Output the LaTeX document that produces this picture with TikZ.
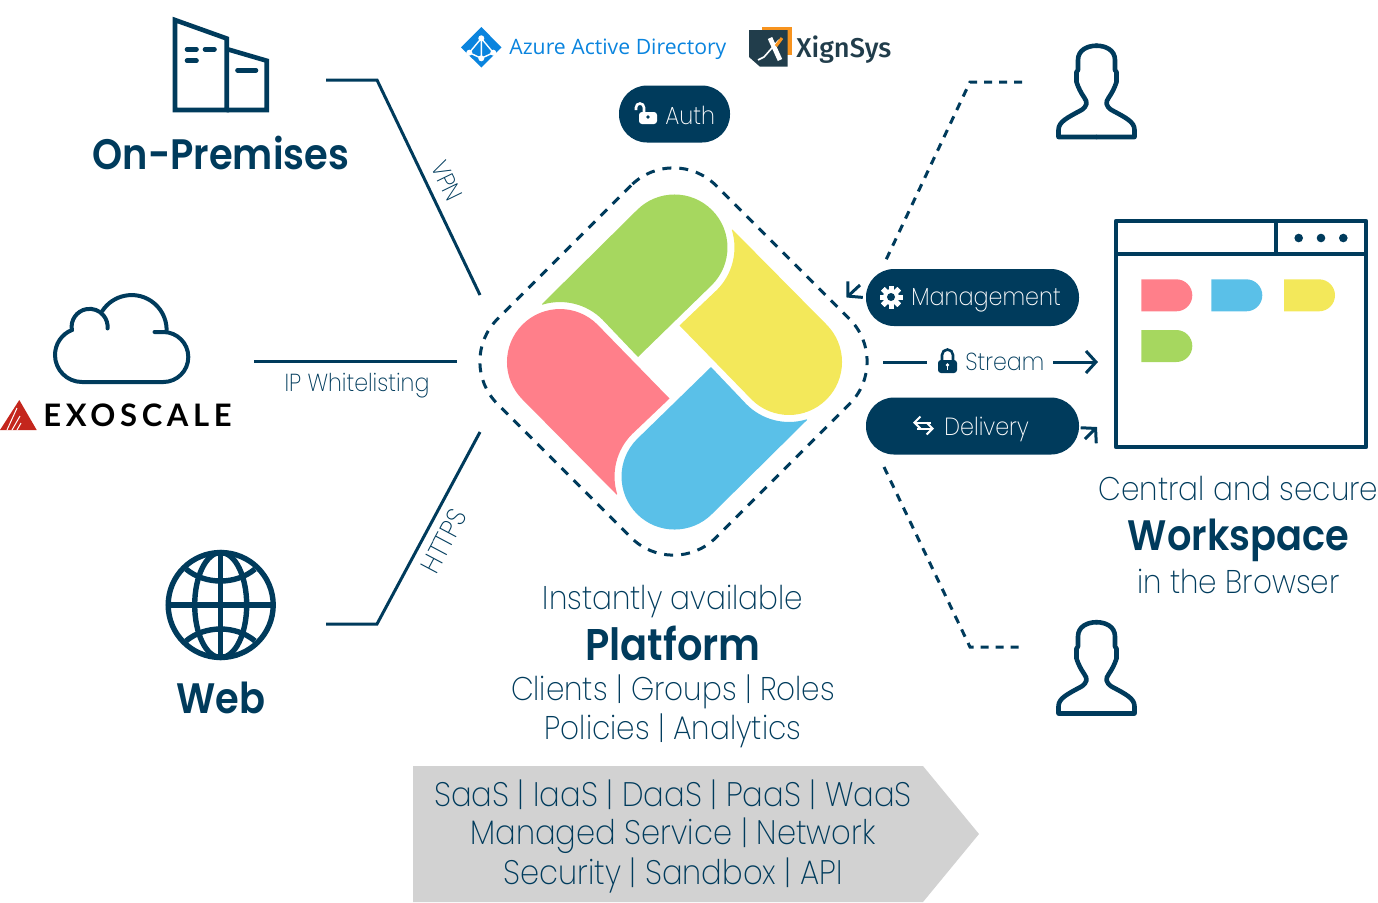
\documentclass[tikz,border=0pt]{standalone}
\usepackage{fontspec}
\setmainfont{Poppins ExtraLight}[BoldFont={Poppins SemiBold}, FakeStretch=0.9]
\newfontfamily\azurefont{Open Sans}
\newfontfamily\xignfont{Fira Sans Medium}
\newfontfamily\exofont{Lato}[LetterSpace=15]
\usetikzlibrary{arrows.meta, shapes.misc}
\definecolor{navy}{RGB}{0,59,92}
\definecolor{leafgreen}{RGB}{166,215,95}
\definecolor{leafyellow}{RGB}{243,232,90}
\definecolor{leafpink}{RGB}{255,127,138}
\definecolor{leafblue}{RGB}{90,192,232}
\definecolor{chevrongray}{RGB}{210,210,210}
\definecolor{azureblue}{RGB}{10,132,222}
\definecolor{xigndark}{RGB}{33,61,75}
\definecolor{xignorange}{RGB}{247,147,30}
\definecolor{exored}{RGB}{196,38,29}
\tikzstyle{line} = [navy, line width=1.5pt]
\tikzstyle{dotted line} = [navy, line width=1.5pt, dash pattern=on 4pt off 3.5pt]
\tikzstyle{icon} = [navy, line width=2.3pt]
\tikzstyle{barb} = [line, -{Straight Barb[length=5pt, width=11pt]}]
\tikzstyle{pill} = [fill=navy, rounded corners=14pt, minimum height=28.5pt, inner sep=0pt]
\tikzstyle{pilltext} = [white, inner sep=0pt, anchor=west, font=\fontsize{12.4}{15}\selectfont]
\tikzstyle{body} = [navy, inner sep=0pt, font=\fontsize{16.4}{19}\selectfont]
\tikzstyle{chevrontext} = [navy, inner sep=0pt, font=\fontsize{17}{20}\selectfont]
\tikzstyle{head} = [navy, inner sep=0pt, font=\fontsize{21.3}{25}\bfseries\selectfont]
\tikzstyle{edgelabel} = [navy, inner sep=0pt, font=\fontsize{12.3}{15}\selectfont]

\begin{document}
\begin{tikzpicture}[x=0.5pt, y=0.5pt]
        \useasboundingbox (0,0) rectangle (1378,-902);
        % Chevron
        \fill[chevrongray] (413,-766) -- (923,-766) -- (979,-834) -- (923,-902) -- (413,-902) -- cycle;
        \node[chevrontext] (services) at (673,-795) {SaaS | IaaS | DaaS | PaaS | WaaS};
        \node[chevrontext] (managed) at (673,-836) {Managed Service | Network};
        \node[chevrontext] (security) at (673,-875) {Security | Sandbox | API};

        % Platform
        \foreach \leafangle/\leafcolor in {0/leafgreen, 90/leafpink, 180/leafblue, -90/leafyellow}
            \fill[\leafcolor, rotate around={\leafangle:(674.5,-362)}] (542,-304) -- (637,-210) arc (135:-45:53) -- (638,-357) -- (602.4,-319.6) arc (45:107.2:60) -- cycle;
        \node[rotate=45, draw=navy, line width=1.5pt, dash pattern=on 4.5pt off 4pt, rounded corners=30pt, minimum size=154.5pt] (platform) at (673.5,-361.5) {};
        \node[body] (instantly) at (673,-601) {Instantly available};
        \node[head, font=\fontsize{22.2}{26}\bfseries\selectfont] (platformtitle) at (673,-643) {Platform};
        \node[body] (clients) at (673,-692) {Clients | Groups | Roles};
        \node[body] (policies) at (673,-731) {Policies | Analytics};

        % On-Premises
        \draw[icon] (175,-110) -- (175,-20) -- (226.7,-38.5) -- (226.7,-110) -- cycle;
        \draw[icon] (226.7,-49) -- (266.7,-60.7) -- (266.7,-110) -- (226.7,-110);
        \draw[icon, line cap=round] (187,-49.3) -- (196.5,-49.3) (205,-49.3) -- (214.5,-49.3) (187,-60.7) -- (196.5,-60.7) (237.5,-70.3) -- (256,-70.3);
        \node[head] (onprem) at (221,-153) {On-Premises};

        % Exoscale
        \draw[icon, line width=2pt, line cap=round] (154.5,-332) -- (163.3,-332) arc (90:-90:25) -- (82,-382) arc (270:112:27) arc (190:-5:18);
        \draw[icon, line width=2pt, line cap=round] (102.3,-311) arc (147:0:35);
        \fill[exored] (19.3,-400) -- (36.7,-430) -- (0,-430) -- cycle;
        \draw[white, line width=0.5pt] (17,-408) -- (7,-430) (20,-416) -- (12,-430) (21,-423) -- (17,-430);
        \node[black, inner sep=0pt, anchor=west, font=\exofont\fontsize{15.5}{18}\selectfont\bfseries] (exoscale) at (43,-415) {EXOSCALE};

        % Web
        \draw[icon, line width=2.7pt] (220.7,-605) circle (52.5);
        \draw[icon, line width=2.7pt] (220.7,-605) ellipse (26 and 52.5);
        \draw[icon, line width=2.7pt] (220.7,-552.5) -- (220.7,-657.5) (168.2,-605) -- (273.2,-605);
        \draw[icon, line width=2.7pt] (186,-569) .. controls (205,-585) and (236,-585) .. (255,-569);
        \draw[icon, line width=2.7pt] (186,-641) .. controls (205,-625) and (236,-625) .. (255,-641);
        \node[head] (web) at (221,-698) {Web};

        % Enlaces izquierda
        \coordinate (vpnstart) at (326,-80);
        \coordinate (vpnbend) at (377,-80);
        \coordinate (vpnend) at (480,-295);
        \coordinate (ipstart) at (254,-361);
        \coordinate (ipend) at (457,-361);
        \coordinate (httpsstart) at (326,-624);
        \coordinate (httpsbend) at (377,-624);
        \coordinate (httpsend) at (480,-432);
        \draw[line] (vpnstart) -- (vpnbend) -- (vpnend);
        \draw[line] (ipstart) -- (ipend);
        \draw[line] (httpsstart) -- (httpsbend) -- (httpsend);
        \node[edgelabel, rotate=-64] (vpn) at (447,-181) {VPN};
        \node[edgelabel] (ip) at (357,-386) {IP Whitelisting};
        \node[edgelabel, rotate=62, font=\fontsize{13.5}{16}\selectfont] (https) at (444,-541) {HTTPS};

        % Logos
        \fill[azureblue] (481.3,-27) -- (501.5,-47.3) -- (481.3,-67.5) -- (461,-47.3) -- cycle;
        \draw[white, line width=0.7pt] (481.3,-38.3) -- (469.3,-52.7) -- (481.3,-58.3) -- (493.3,-52.7) -- cycle (481.3,-38.3) -- (481.3,-58.3);
        \foreach \azx/\azy in {481.3/-38.3, 469.3/-52.7, 493.3/-52.7, 481.3/-58.3}
            \fill[white] (\azx,\azy) circle (3);
        \node[azureblue, inner sep=0pt, anchor=west, font=\azurefont\fontsize{10.6}{13}\selectfont] (azure) at (509,-49) {Azure Active Directory};
        \fill[xignorange] (761.7,-26.7) rectangle (791.7,-55);
        \fill[xigndark] (749,-30) -- (787.7,-30) -- (787.7,-66.7) -- (760,-66.7) -- (749,-57) -- cycle;
        \draw[white, line width=2.4pt] (770,-38) -- (780,-60);
        \draw[white, line width=0.8pt] (779,-40) -- (764,-57) -- (758,-60);
        \draw[xignorange, line width=1.5pt] (782,-38) -- (776,-46);
        \node[xigndark, inner sep=0pt, anchor=west, font=\xignfont\fontsize{13.6}{16}\selectfont] (xignsys) at (796,-50) {XignSys};

        % Auth
        \node[pill, minimum width=55.5pt] (auth) at (674.5,-114) {};
        \fill[white, rounded corners=1.5pt] (639,-112) rectangle (657,-124);
        \fill[navy] (648,-117) circle (1.8);
        \draw[white, line width=1.3pt] (636,-110) -- (636,-107.5) arc (180:0:4) -- (644,-113);
        \node[pilltext] (authtext) at (665,-115) {Auth};

        % Management
        \node[pill, minimum width=106.5pt] (management) at (972.5,-297.5) {};
        \foreach \gearangle in {0,45,...,315}
            \fill[white, rotate around={\gearangle:(891,-297)}] (888.5,-285.5) rectangle (893.5,-308.5);
        \fill[white] (891,-297) circle (8);
        \fill[navy] (891,-297) circle (4);
        \node[pilltext] (managementtext) at (911,-300) {Management};
        \coordinate (mgmtstart) at (860,-285);
        \coordinate (mgmtend) at (846.5,-297.5);
        \draw[barb] (mgmtstart) -- (mgmtend);

        % Stream
        \coordinate (streamstart) at (883,-362);
        \coordinate (streammid) at (927,-362);
        \coordinate (streamnext) at (1053,-362);
        \coordinate (streamend) at (1098,-362);
        \draw[line] (streamstart) -- (streammid);
        \draw[barb] (streamnext) -- (streamend);
        \fill[navy, rounded corners=1.5pt] (938,-360) rectangle (957,-373);
        \draw[navy, line width=1.3pt] (942,-361) -- (942,-355) arc (180:0:5.5) -- (953,-361);
        \fill[white] (947.5,-365) circle (1.8);
        \draw[white, line width=0.7pt] (947.5,-365) -- (947.5,-370);
        \node[edgelabel, anchor=west] (stream) at (965,-362) {Stream};

        % Delivery
        \node[pill, minimum width=106.5pt] (delivery) at (972.5,-426) {};
        \draw[white, line width=1pt, -{Straight Barb[length=3pt, width=6pt]}] (931,-422.5) -- (913,-422.5);
        \draw[white, line width=1pt, -{Straight Barb[length=3pt, width=6pt]}] (917,-428.5) -- (934,-428.5);
        \node[pilltext] (deliverytext) at (944,-429) {Delivery};
        \coordinate (delivstart) at (1085,-439);
        \coordinate (delivend) at (1097,-427);
        \draw[barb] (delivstart) -- (delivend);

        % Usuarios
        \coordinate (topuserstart) at (1022,-82);
        \coordinate (topuserbend) at (970,-82);
        \coordinate (topuserend) at (885,-262);
        \coordinate (bottomuserstart) at (884,-467);
        \coordinate (bottomuserbend) at (970,-647);
        \coordinate (bottomuserend) at (1022,-647);
        \draw[dotted line] (topuserstart) -- (topuserbend) -- (topuserend);
        \draw[dotted line] (bottomuserstart) -- (bottomuserbend) -- (bottomuserend);
        \foreach \persony in {0,-576.5}
            \foreach \side in {1,-1}
                \draw[icon, line join=round, line cap=round, shift={(1096.5,\persony)}, xscale=\side] (0,-137) -- (38,-137) -- (38,-130) .. controls (38,-122) and (30,-118) .. (15,-110) .. controls (9,-106) and (9,-102) .. (12,-98) .. controls (16,-92) and (18,-88) .. (20,-82) -- (20,-72) -- (18.5,-70) -- (18.5,-60) .. controls (18.5,-50) and (9,-45.7) .. (0,-45.7);

        % Workspace
        \draw[navy, line width=2.4pt, line join=round] (1116,-221) rectangle (1366,-447);
        \draw[navy, line width=2.4pt] (1116,-254) -- (1366,-254) (1276,-221) -- (1276,-254);
        \foreach \dotx in {1298.7,1321,1343.3}
            \fill[navy] (\dotx,-238) circle (4.3);
        \foreach \tabx/\taby/\tabcolor in {1141.3/-279.3/leafpink, 1211.3/-279.3/leafblue, 1284/-279.3/leafyellow, 1141.3/-330/leafgreen}
            \fill[\tabcolor] (\tabx,\taby) -- ++(35,0) arc (90:-90:16) -- ++(-35,0) -- cycle;
        \node[body] (central) at (1238.5,-488) {Central and secure};
        \node[head] (workspace) at (1238.5,-540) {Workspace};
        \node[body] (browser) at (1238.5,-581) {in the Browser};
\end{tikzpicture}
\end{document}
